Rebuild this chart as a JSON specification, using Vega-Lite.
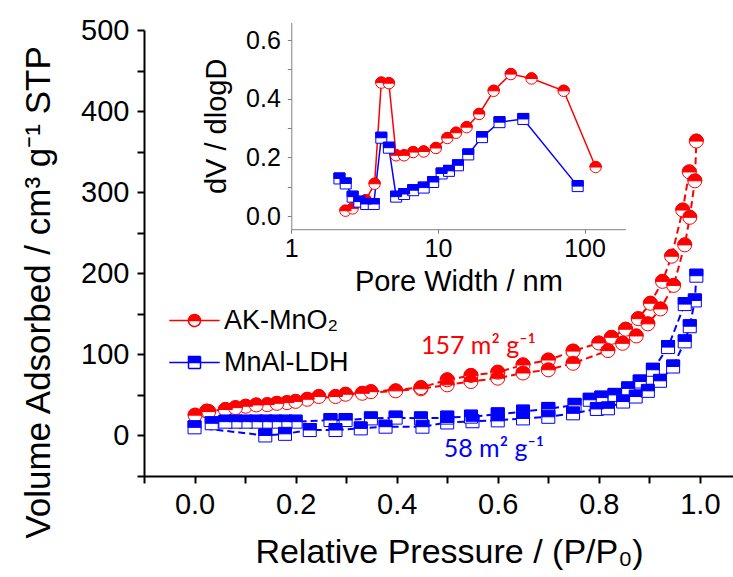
{
  "$schema": "https://vega.github.io/schema/vega-lite/v6.json",
  "autosize": "none",
  "width": 589,
  "height": 446,
  "padding": {"left": 144, "top": 30, "right": 0, "bottom": 101},
  "background": "#ffffff",
  "config": {
    "view": {"stroke": null},
    "axis": {"grid": false, "labelFont": "Liberation Sans", "titleFont": "Liberation Sans", "titleFontWeight": "normal", "labelColor": "#000000", "titleColor": "#000000", "labelFlush": false, "labelOverlap": false},
    "legend": {"labelFont": "Liberation Sans", "labelFontSize": 27, "labelColor": "#000000"}
  },
  "datasets": {
    "main": [
      {"series": "AK-MnO₂", "branch": "ads", "p": 0.001, "v": 25},
      {"series": "AK-MnO₂", "branch": "ads", "p": 0.024, "v": 30},
      {"series": "AK-MnO₂", "branch": "ads", "p": 0.061, "v": 32},
      {"series": "AK-MnO₂", "branch": "ads", "p": 0.101, "v": 36},
      {"series": "AK-MnO₂", "branch": "ads", "p": 0.144, "v": 38},
      {"series": "AK-MnO₂", "branch": "ads", "p": 0.183, "v": 40.5},
      {"series": "AK-MnO₂", "branch": "ads", "p": 0.223, "v": 44.6},
      {"series": "AK-MnO₂", "branch": "ads", "p": 0.279, "v": 48},
      {"series": "AK-MnO₂", "branch": "ads", "p": 0.332, "v": 52},
      {"series": "AK-MnO₂", "branch": "ads", "p": 0.398, "v": 55},
      {"series": "AK-MnO₂", "branch": "ads", "p": 0.448, "v": 57.5},
      {"series": "AK-MnO₂", "branch": "ads", "p": 0.5, "v": 62.4},
      {"series": "AK-MnO₂", "branch": "ads", "p": 0.547, "v": 66.5},
      {"series": "AK-MnO₂", "branch": "ads", "p": 0.6, "v": 70.6},
      {"series": "AK-MnO₂", "branch": "ads", "p": 0.65, "v": 77},
      {"series": "AK-MnO₂", "branch": "ads", "p": 0.7, "v": 81},
      {"series": "AK-MnO₂", "branch": "ads", "p": 0.749, "v": 89},
      {"series": "AK-MnO₂", "branch": "ads", "p": 0.818, "v": 104.6},
      {"series": "AK-MnO₂", "branch": "ads", "p": 0.847, "v": 113.6},
      {"series": "AK-MnO₂", "branch": "ads", "p": 0.874, "v": 122.7},
      {"series": "AK-MnO₂", "branch": "ads", "p": 0.897, "v": 137.6},
      {"series": "AK-MnO₂", "branch": "ads", "p": 0.922, "v": 156},
      {"series": "AK-MnO₂", "branch": "ads", "p": 0.948, "v": 185},
      {"series": "AK-MnO₂", "branch": "ads", "p": 0.97, "v": 235},
      {"series": "AK-MnO₂", "branch": "ads", "p": 0.98, "v": 269},
      {"series": "AK-MnO₂", "branch": "ads", "p": 0.99, "v": 314},
      {"series": "AK-MnO₂", "branch": "ads", "p": 0.993, "v": 363},
      {"series": "AK-MnO₂", "branch": "des", "p": 0.979, "v": 325},
      {"series": "AK-MnO₂", "branch": "des", "p": 0.966, "v": 278},
      {"series": "AK-MnO₂", "branch": "des", "p": 0.944, "v": 221},
      {"series": "AK-MnO₂", "branch": "des", "p": 0.926, "v": 190},
      {"series": "AK-MnO₂", "branch": "des", "p": 0.902, "v": 163},
      {"series": "AK-MnO₂", "branch": "des", "p": 0.878, "v": 144},
      {"series": "AK-MnO₂", "branch": "des", "p": 0.853, "v": 131},
      {"series": "AK-MnO₂", "branch": "des", "p": 0.825, "v": 121},
      {"series": "AK-MnO₂", "branch": "des", "p": 0.8, "v": 114},
      {"series": "AK-MnO₂", "branch": "des", "p": 0.749, "v": 104},
      {"series": "AK-MnO₂", "branch": "des", "p": 0.7, "v": 93},
      {"series": "AK-MnO₂", "branch": "des", "p": 0.65, "v": 87},
      {"series": "AK-MnO₂", "branch": "des", "p": 0.6, "v": 78},
      {"series": "AK-MnO₂", "branch": "des", "p": 0.547, "v": 74},
      {"series": "AK-MnO₂", "branch": "des", "p": 0.5, "v": 68.6},
      {"series": "AK-MnO₂", "branch": "des", "p": 0.448, "v": 59},
      {"series": "AK-MnO₂", "branch": "des", "p": 0.349, "v": 54},
      {"series": "AK-MnO₂", "branch": "des", "p": 0.299, "v": 50.8},
      {"series": "AK-MnO₂", "branch": "des", "p": 0.246, "v": 48},
      {"series": "AK-MnO₂", "branch": "des", "p": 0.2, "v": 42},
      {"series": "AK-MnO₂", "branch": "des", "p": 0.163, "v": 39.6},
      {"series": "AK-MnO₂", "branch": "des", "p": 0.122, "v": 37.6},
      {"series": "AK-MnO₂", "branch": "des", "p": 0.081, "v": 34.3},
      {"series": "AK-MnO₂", "branch": "des", "p": 0.028, "v": 29.4},
      {"series": "MnAl-LDH", "branch": "ads", "p": 0.0, "v": 10},
      {"series": "MnAl-LDH", "branch": "ads", "p": 0.14, "v": 0},
      {"series": "MnAl-LDH", "branch": "ads", "p": 0.179, "v": 2},
      {"series": "MnAl-LDH", "branch": "ads", "p": 0.228, "v": 6.7},
      {"series": "MnAl-LDH", "branch": "ads", "p": 0.279, "v": 6.7},
      {"series": "MnAl-LDH", "branch": "ads", "p": 0.329, "v": 8.7},
      {"series": "MnAl-LDH", "branch": "ads", "p": 0.378, "v": 10.8},
      {"series": "MnAl-LDH", "branch": "ads", "p": 0.451, "v": 10.8},
      {"series": "MnAl-LDH", "branch": "ads", "p": 0.5, "v": 16},
      {"series": "MnAl-LDH", "branch": "ads", "p": 0.55, "v": 17.5},
      {"series": "MnAl-LDH", "branch": "ads", "p": 0.6, "v": 18.6},
      {"series": "MnAl-LDH", "branch": "ads", "p": 0.65, "v": 21},
      {"series": "MnAl-LDH", "branch": "ads", "p": 0.7, "v": 23},
      {"series": "MnAl-LDH", "branch": "ads", "p": 0.749, "v": 27.3},
      {"series": "MnAl-LDH", "branch": "ads", "p": 0.796, "v": 32.7},
      {"series": "MnAl-LDH", "branch": "ads", "p": 0.818, "v": 33.5},
      {"series": "MnAl-LDH", "branch": "ads", "p": 0.848, "v": 41.8},
      {"series": "MnAl-LDH", "branch": "ads", "p": 0.873, "v": 48},
      {"series": "MnAl-LDH", "branch": "ads", "p": 0.897, "v": 55},
      {"series": "MnAl-LDH", "branch": "ads", "p": 0.921, "v": 67.4},
      {"series": "MnAl-LDH", "branch": "ads", "p": 0.947, "v": 85},
      {"series": "MnAl-LDH", "branch": "ads", "p": 0.97, "v": 116},
      {"series": "MnAl-LDH", "branch": "ads", "p": 0.98, "v": 134.7},
      {"series": "MnAl-LDH", "branch": "ads", "p": 0.99, "v": 166.5},
      {"series": "MnAl-LDH", "branch": "ads", "p": 0.993, "v": 197},
      {"series": "MnAl-LDH", "branch": "des", "p": 0.97, "v": 162},
      {"series": "MnAl-LDH", "branch": "des", "p": 0.937, "v": 109},
      {"series": "MnAl-LDH", "branch": "des", "p": 0.907, "v": 81},
      {"series": "MnAl-LDH", "branch": "des", "p": 0.881, "v": 66.5},
      {"series": "MnAl-LDH", "branch": "des", "p": 0.858, "v": 58},
      {"series": "MnAl-LDH", "branch": "des", "p": 0.831, "v": 50},
      {"series": "MnAl-LDH", "branch": "des", "p": 0.805, "v": 46.7},
      {"series": "MnAl-LDH", "branch": "des", "p": 0.782, "v": 44},
      {"series": "MnAl-LDH", "branch": "des", "p": 0.752, "v": 37.7},
      {"series": "MnAl-LDH", "branch": "des", "p": 0.7, "v": 32.7},
      {"series": "MnAl-LDH", "branch": "des", "p": 0.65, "v": 29.4},
      {"series": "MnAl-LDH", "branch": "des", "p": 0.6, "v": 26},
      {"series": "MnAl-LDH", "branch": "des", "p": 0.547, "v": 23.2},
      {"series": "MnAl-LDH", "branch": "des", "p": 0.5, "v": 22},
      {"series": "MnAl-LDH", "branch": "des", "p": 0.448, "v": 21},
      {"series": "MnAl-LDH", "branch": "des", "p": 0.398, "v": 22},
      {"series": "MnAl-LDH", "branch": "des", "p": 0.349, "v": 21},
      {"series": "MnAl-LDH", "branch": "des", "p": 0.299, "v": 19},
      {"series": "MnAl-LDH", "branch": "des", "p": 0.269, "v": 19},
      {"series": "MnAl-LDH", "branch": "des", "p": 0.2, "v": 17},
      {"series": "MnAl-LDH", "branch": "des", "p": 0.18, "v": 17},
      {"series": "MnAl-LDH", "branch": "des", "p": 0.16, "v": 17},
      {"series": "MnAl-LDH", "branch": "des", "p": 0.141, "v": 17},
      {"series": "MnAl-LDH", "branch": "des", "p": 0.122, "v": 17},
      {"series": "MnAl-LDH", "branch": "des", "p": 0.101, "v": 17},
      {"series": "MnAl-LDH", "branch": "des", "p": 0.081, "v": 17},
      {"series": "MnAl-LDH", "branch": "des", "p": 0.061, "v": 17},
      {"series": "MnAl-LDH", "branch": "des", "p": 0.034, "v": 15}
    ],
    "inset": [
      {"series": "AK-MnO₂", "w": 2.34, "d": 0.018},
      {"series": "AK-MnO₂", "w": 2.62, "d": 0.026},
      {"series": "AK-MnO₂", "w": 3.22, "d": 0.054},
      {"series": "AK-MnO₂", "w": 3.7, "d": 0.11},
      {"series": "AK-MnO₂", "w": 4.11, "d": 0.455},
      {"series": "AK-MnO₂", "w": 4.63, "d": 0.453},
      {"series": "AK-MnO₂", "w": 5.19, "d": 0.207},
      {"series": "AK-MnO₂", "w": 5.88, "d": 0.207},
      {"series": "AK-MnO₂", "w": 6.78, "d": 0.218},
      {"series": "AK-MnO₂", "w": 8.0, "d": 0.22},
      {"series": "AK-MnO₂", "w": 9.68, "d": 0.232},
      {"series": "AK-MnO₂", "w": 11.6, "d": 0.266},
      {"series": "AK-MnO₂", "w": 13.3, "d": 0.284},
      {"series": "AK-MnO₂", "w": 15.7, "d": 0.303},
      {"series": "AK-MnO₂", "w": 19.1, "d": 0.348},
      {"series": "AK-MnO₂", "w": 24.0, "d": 0.427},
      {"series": "AK-MnO₂", "w": 31.4, "d": 0.484},
      {"series": "AK-MnO₂", "w": 43.5, "d": 0.469},
      {"series": "AK-MnO₂", "w": 72.1, "d": 0.427},
      {"series": "AK-MnO₂", "w": 119, "d": 0.167},
      {"series": "MnAl-LDH", "w": 2.13, "d": 0.128},
      {"series": "MnAl-LDH", "w": 2.35, "d": 0.111},
      {"series": "MnAl-LDH", "w": 2.62, "d": 0.066},
      {"series": "MnAl-LDH", "w": 2.91, "d": 0.049},
      {"series": "MnAl-LDH", "w": 3.24, "d": 0.041},
      {"series": "MnAl-LDH", "w": 3.65, "d": 0.041},
      {"series": "MnAl-LDH", "w": 4.11, "d": 0.267},
      {"series": "MnAl-LDH", "w": 4.63, "d": 0.233},
      {"series": "MnAl-LDH", "w": 5.19, "d": 0.066},
      {"series": "MnAl-LDH", "w": 5.88, "d": 0.075},
      {"series": "MnAl-LDH", "w": 6.78, "d": 0.088},
      {"series": "MnAl-LDH", "w": 8.0, "d": 0.097},
      {"series": "MnAl-LDH", "w": 9.28, "d": 0.116},
      {"series": "MnAl-LDH", "w": 10.6, "d": 0.145},
      {"series": "MnAl-LDH", "w": 11.9, "d": 0.154},
      {"series": "MnAl-LDH", "w": 13.7, "d": 0.173},
      {"series": "MnAl-LDH", "w": 16.1, "d": 0.21},
      {"series": "MnAl-LDH", "w": 20.0, "d": 0.269},
      {"series": "MnAl-LDH", "w": 26.3, "d": 0.32},
      {"series": "MnAl-LDH", "w": 38.2, "d": 0.331},
      {"series": "MnAl-LDH", "w": 89.8, "d": 0.102}
    ],
    "notes": [
      {"series": "AK-MnO₂", "label": "157 m² g⁻¹", "p": 0.448, "v": 101},
      {"series": "MnAl-LDH", "label": "58 m² g⁻¹", "p": 0.493, "v": -26}
    ]
  },
  "layer": [
    {
      "encoding": {
        "x": {"field": "p", "type": "quantitative",
          "scale": {"domain": [-0.1, 1.0655], "nice": false, "zero": false},
          "axis": {"title": "Relative Pressure / (P/P₀)", "values": [-0.1, 0, 0.1, 0.2, 0.3, 0.4, 0.5, 0.6, 0.7, 0.8, 0.9, 1.0],
            "labelExpr": "round(datum.value * 10) % 2 === 0 ? format(datum.value, '.1f') : ''",
            "labelFontSize": 29, "titleFontSize": 34, "tickSize": 7, "tickWidth": 2, "domainWidth": 2,
            "domainColor": "#000000", "tickColor": "#000000", "labelPadding": 7, "titlePadding": 16, "titleX": 305}},
        "y": {"field": "v", "type": "quantitative",
          "scale": {"domain": [-50, 500], "nice": false, "zero": false},
          "axis": {"title": "Volume Adsorbed / cm³ g⁻¹ STP", "values": [-50, 0, 50, 100, 150, 200, 250, 300, 350, 400, 450, 500],
            "labelExpr": "datum.value % 100 === 0 ? format(datum.value, 'd') : ''",
            "labelFontSize": 29, "titleFontSize": 35, "tickSize": 7, "tickWidth": 2, "domainWidth": 2,
            "domainColor": "#000000", "tickColor": "#000000", "labelPadding": 8, "titlePadding": 24, "titleY": 262}}
      },
      "layer": [
        {
          "data": {"name": "main"},
          "mark": {"type": "line", "strokeWidth": 2, "strokeDash": [7, 4]},
          "encoding": {
            "color": {"field": "series", "type": "nominal",
              "scale": {"domain": ["AK-MnO₂", "MnAl-LDH"], "range": ["#ff0000", "#0000ff"]},
              "legend": {"title": null, "orient": "none", "legendX": 37, "legendY": 277, "padding": 0,
                "symbolSize": 144, "labelOffset": 16, "rowPadding": 14, "labelFontSize": 27,
                "encode": {"symbols": {"update": {
                  "shape": {"signal": "datum.value === 'AK-MnO₂' ? 'M-4.2,0H-1M1,0H4.2M-1,0A1,1,0,0,1,1,0ZM-1,0A1,1,0,0,0,1,0A1,1,0,0,1,-1,0' : 'M-4.2,0H-1M1,0H4.2M-1,-1H1V0H-1ZM-1,0V1H1V0V1H-1V0'"},
                  "fill": {"signal": "datum.value === 'AK-MnO₂' ? '#ff0000' : '#0000ff'"},
                  "stroke": {"signal": "datum.value === 'AK-MnO₂' ? '#ff0000' : '#0000ff'"},
                  "strokeDash": {"value": [1, 0]},
                  "strokeWidth": {"value": 1.5},
                  "size": {"value": 144},
                  "opacity": {"value": 1},
                  "fillOpacity": {"value": 1}
                }}}}
            },
            "detail": {"field": "branch"}
          }
        },
        {
          "data": {"name": "main"},
          "transform": [{"filter": "datum.series !== 'MnAl-LDH'"}],
          "mark": {"type": "point", "shape": "circle", "filled": true, "fill": "#ffffff", "stroke": "#ff0000", "strokeWidth": 1, "size": 196, "opacity": 1}
        },
        {
          "data": {"name": "main"},
          "transform": [{"filter": "datum.series !== 'MnAl-LDH'"}],
          "mark": {"type": "point", "shape": "M-1,0A1,1,0,0,1,1,0Z", "filled": true, "fill": "#ff0000", "stroke": "#ff0000", "strokeWidth": 1, "size": 196, "opacity": 1}
        },
        {
          "data": {"name": "main"},
          "transform": [{"filter": "datum.series === 'MnAl-LDH'"}],
          "mark": {"type": "point", "shape": "square", "filled": true, "fill": "#ffffff", "stroke": "#0000ff", "strokeWidth": 1, "size": 169, "opacity": 1}
        },
        {
          "data": {"name": "main"},
          "transform": [{"filter": "datum.series === 'MnAl-LDH'"}],
          "mark": {"type": "point", "shape": "M-1,-1H1V0H-1Z", "filled": true, "fill": "#0000ff", "stroke": "#0000ff", "strokeWidth": 1, "size": 169, "opacity": 1}
        },
        {
          "data": {"name": "notes"},
          "mark": {"type": "text", "align": "left", "baseline": "alphabetic", "font": "Lato", "fontSize": 25},
          "encoding": {
            "text": {"field": "label"},
            "color": {"field": "series", "type": "nominal", "legend": null}
          }
        }
      ]
    },
    {
      "encoding": {
        "x": {"field": "w", "type": "quantitative",
          "scale": {"type": "log", "domain": [1, 190], "range": [147.3, 481.4], "nice": false},
          "axis": {"orient": "bottom", "offset": -246.8, "title": "Pore Width / nm", "values": [1, 10, 100],
            "labelExpr": "format(datum.value, 'd')",
            "labelFontSize": 25, "titleFontSize": 29, "tickSize": 4, "tickWidth": 1, "domainWidth": 1,
            "domainColor": "#808080", "tickColor": "#808080", "labelPadding": 3, "titlePadding": 6}},
        "y": {"field": "d", "type": "quantitative",
          "scale": {"domain": [-0.045, 0.66], "range": [199.2, -7.5], "nice": false, "zero": false},
          "axis": {"orient": "left", "offset": -147.3, "title": "dV / dlogD", "values": [0, 0.1, 0.2, 0.3, 0.4, 0.5, 0.6],
            "labelExpr": "round(datum.value * 10) % 2 === 0 ? format(datum.value, '.1f') : ''",
            "labelFontSize": 25, "titleFontSize": 29, "tickSize": 4, "tickWidth": 1, "domainWidth": 1,
            "domainColor": "#808080", "tickColor": "#808080", "labelPadding": 7, "titlePadding": 14}}
      },
      "layer": [
        {
          "data": {"name": "inset"},
          "mark": {"type": "line", "strokeWidth": 1.5},
          "encoding": {"color": {"field": "series", "type": "nominal", "legend": null}}
        },
        {
          "data": {"name": "inset"},
          "transform": [{"filter": "datum.series !== 'MnAl-LDH'"}],
          "mark": {"type": "point", "shape": "circle", "filled": true, "fill": "#ffffff", "stroke": "#ff0000", "strokeWidth": 1, "size": 130, "opacity": 1}
        },
        {
          "data": {"name": "inset"},
          "transform": [{"filter": "datum.series !== 'MnAl-LDH'"}],
          "mark": {"type": "point", "shape": "M-1,0A1,1,0,0,1,1,0Z", "filled": true, "fill": "#ff0000", "stroke": "#ff0000", "strokeWidth": 1, "size": 130, "opacity": 1}
        },
        {
          "data": {"name": "inset"},
          "transform": [{"filter": "datum.series === 'MnAl-LDH'"}],
          "mark": {"type": "point", "shape": "square", "filled": true, "fill": "#ffffff", "stroke": "#0000ff", "strokeWidth": 1, "size": 121, "opacity": 1}
        },
        {
          "data": {"name": "inset"},
          "transform": [{"filter": "datum.series === 'MnAl-LDH'"}],
          "mark": {"type": "point", "shape": "M-1,-1H1V0H-1Z", "filled": true, "fill": "#0000ff", "stroke": "#0000ff", "strokeWidth": 1, "size": 121, "opacity": 1}
        }
      ]
    }
  ],
  "resolve": {"scale": {"x": "independent", "y": "independent"}}
}
